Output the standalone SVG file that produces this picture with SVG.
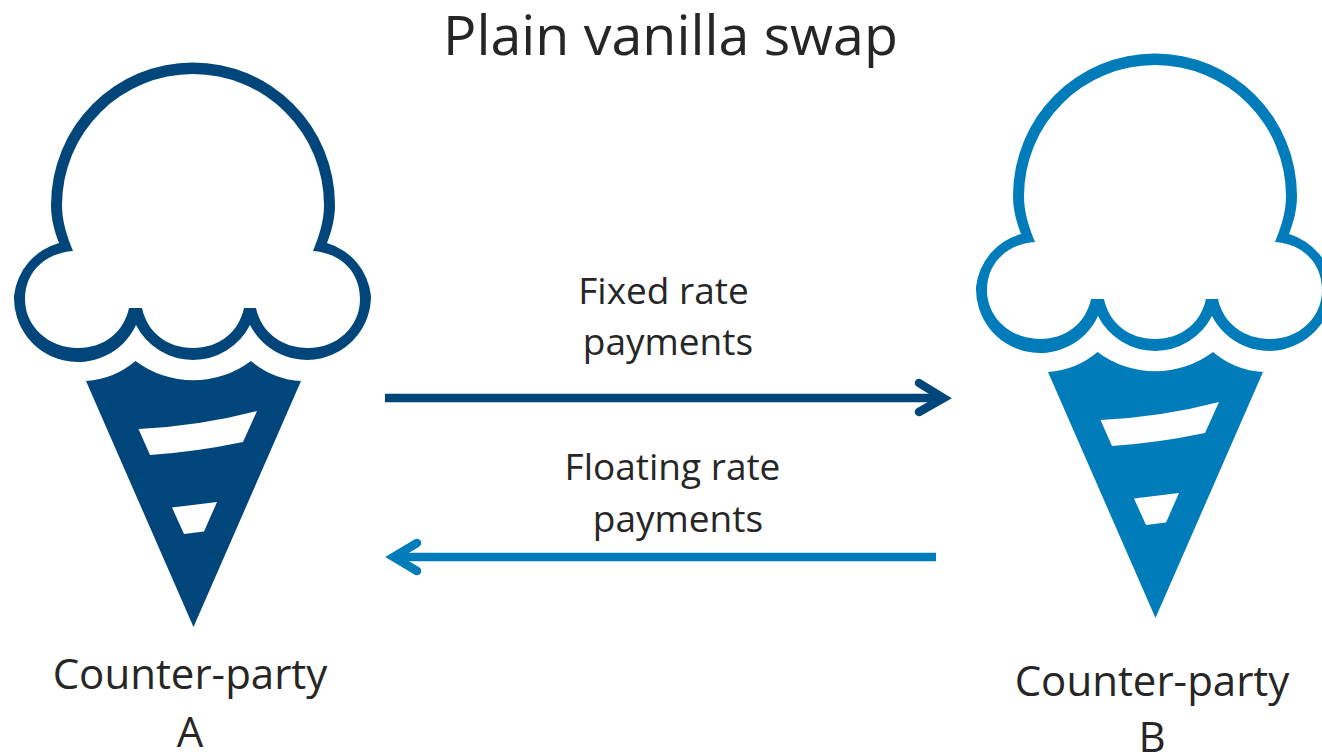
<svg xmlns="http://www.w3.org/2000/svg" width="1322" height="754" viewBox="0 0 1322 754">
<style>
text{font-family:"Open Sans","Noto Sans","Liberation Sans",sans-serif;fill:#262626;text-anchor:middle}
.t{font-size:55.5px}.l{font-size:37px}.c{font-size:42px}
.a{stroke:#00467a;fill:none;stroke-width:8.500}
.b{stroke:#007cba;fill:none;stroke-width:8.500}
.h{stroke-linecap:round}
</style>
<defs>
<g id="cone">
<path d="M59 243C54 230 51 218 51 205A142 142.500 0 0 1 335 205C335 218 332 230 327 243A62 62 0 0 1 371 296A64 64 0 0 1 250 325A64 64 0 0 1 136 325A64 64 0 0 1 14 296A62 62 0 0 1 59 243Z"/>
<path fill="#fff" d="M73 251C67 236 62 222 62 205A131 131 0 0 1 324 205C324 222 319 236 313 251C341 253 360 272 360 299C360 327 337 348 308 348C282 348 261 332 256 308H244C239 332 219 348 193 348C167 348 147 332 142 308H129C124 332 104 348 78 348C49 348 25 327 25 299C25 272 45 253 73 251Z"/>
<path d="M86 381A85 85 0 0 0 135.500 361A96 96 0 0 0 251 361A85 85 0 0 0 301 381L193.500 627Z"/>
<path fill="#fff" d="M138.500 429Q200 426 257 411L243 442Q195 452 150 455Z"/>
<path fill="#fff" d="M172 507.500L217 502L204 531.500L184 534Z"/>
</g>
</defs>
<text class="t" x="670.500" y="55">Plain vanilla swap</text>
<g id="a"><use href="#cone" fill="#00467a"/><text class="c" x="190" y="689">Counter-party</text><text class="c" x="190" y="747">A</text></g>
<g id="b"><use href="#cone" x="962" y="-9" fill="#007cba"/><text class="c" x="1152" y="696">Counter-party</text><text class="c" x="1152" y="752">B</text></g>
<g id="connectors">
<path class="a" d="M385 398H940"/><path class="a h" d="M919 383L943.500 398L919 412"/>
<path class="b" d="M936 557H398"/><path class="b h" d="M417 543L393.500 557L417 571"/>
</g>
<g id="labels"><text class="l" x="663.500" y="304">Fixed rate</text><text class="l" x="668" y="355">payments</text><text class="l" x="672.500" y="480">Floating rate</text><text class="l" x="678" y="532">payments</text></g>
</svg>
